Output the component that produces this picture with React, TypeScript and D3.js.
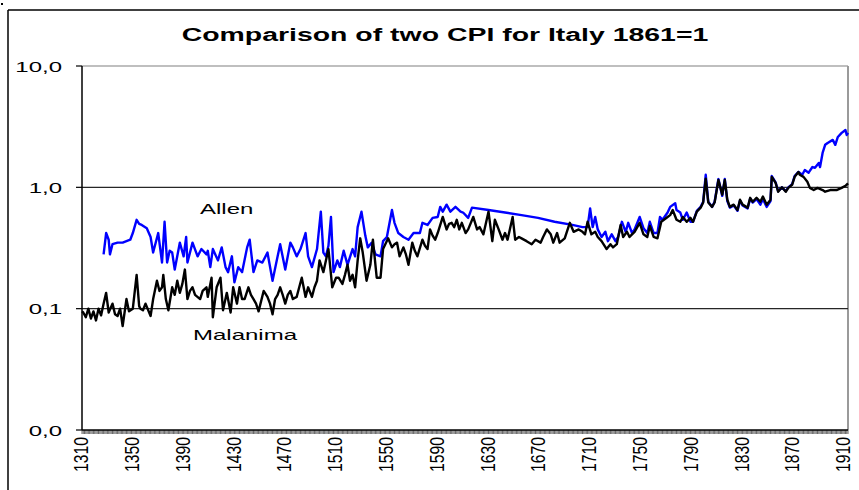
import React from 'react';
import * as d3 from 'd3';

const chartTitle = 'Comparison of two CPI for Italy 1861=1';
const yTickValues = [0.01, 0.1, 1, 10];
const yTickLabels = ['0,0', '0,1', '1,0', '10,0'];
const xLabelYears = [1310, 1350, 1390, 1430, 1470, 1510, 1550, 1590, 1630, 1670, 1710, 1750, 1790, 1830, 1870, 1910];
const seriesNames = ['Allen', 'Malanima'];

const malanimaYears = [
  1310, 1311, 1313, 1315, 1317, 1319, 1321, 1323, 1325, 1327, 1329, 1331, 1334, 1336, 1338, 1340, 1342, 1345, 1347, 1350,
  1353, 1355, 1356, 1358, 1360, 1364, 1366, 1369, 1371, 1373, 1374, 1376, 1378, 1381, 1383, 1385, 1387, 1389, 1391, 1393,
  1395, 1397, 1399, 1403, 1405, 1408, 1409, 1412, 1413, 1416, 1419, 1421, 1424, 1427, 1429, 1432, 1434, 1436, 1438, 1441,
  1443, 1445, 1447, 1449, 1453, 1456, 1458, 1460, 1462, 1464, 1466, 1468, 1470, 1472, 1474, 1476, 1479, 1481, 1483, 1486,
  1488, 1491, 1493, 1495, 1497, 1500, 1504, 1507, 1510, 1512, 1515, 1517, 1519, 1521, 1523, 1525, 1527, 1529, 1531, 1534,
  1537, 1539, 1542, 1545, 1547, 1551, 1554, 1556, 1558, 1560, 1563, 1565, 1567, 1570, 1572, 1574, 1578, 1580, 1582, 1584,
  1586, 1588, 1590, 1594, 1597, 1599, 1601, 1603, 1605, 1607, 1609, 1612, 1614, 1618, 1621, 1623, 1626, 1630, 1633, 1635,
  1638, 1641, 1643, 1645, 1649, 1651, 1654, 1656, 1660, 1664, 1667, 1671, 1673, 1676, 1679, 1681, 1684, 1686, 1690, 1694,
  1697, 1701, 1704, 1706, 1708, 1711, 1714, 1716, 1719, 1723, 1726, 1728, 1731, 1734, 1736, 1739, 1741, 1745, 1749, 1752,
  1755, 1757, 1760, 1763, 1766, 1771, 1773, 1775, 1778, 1781, 1783, 1786, 1789, 1791, 1794, 1797, 1799, 1801, 1803, 1806,
  1808, 1811, 1814, 1816, 1818, 1820, 1823, 1826, 1828, 1830, 1834, 1836, 1838, 1841, 1844, 1846, 1849, 1852, 1853, 1856,
  1858, 1861, 1864, 1866, 1869, 1871, 1874, 1875, 1878, 1881, 1883, 1886, 1889, 1893, 1895, 1899, 1904, 1908, 1911, 1913,
];
const malanimaValues = [
  0.095, 0.093, 0.085, 0.1, 0.083, 0.095, 0.08, 0.1, 0.088, 0.11, 0.135, 0.093, 0.11, 0.09, 0.087, 0.1, 0.072, 0.12, 0.095, 0.1,
  0.19, 0.105, 0.1, 0.097, 0.11, 0.087, 0.12, 0.17, 0.14, 0.15, 0.19, 0.12, 0.097, 0.15, 0.13, 0.17, 0.135, 0.16, 0.21, 0.12,
  0.14, 0.15, 0.13, 0.12, 0.14, 0.15, 0.125, 0.18, 0.085, 0.15, 0.18, 0.097, 0.135, 0.093, 0.15, 0.11, 0.15, 0.12, 0.12, 0.15,
  0.13, 0.12, 0.11, 0.095, 0.14, 0.125, 0.11, 0.09, 0.12, 0.13, 0.15, 0.13, 0.11, 0.13, 0.14, 0.12, 0.125, 0.15, 0.18, 0.125,
  0.15, 0.125, 0.15, 0.17, 0.25, 0.2, 0.31, 0.15, 0.18, 0.18, 0.16, 0.19, 0.23, 0.17, 0.19, 0.15, 0.25, 0.38, 0.29, 0.17,
  0.23, 0.37, 0.18, 0.18, 0.31, 0.38, 0.32, 0.34, 0.35, 0.27, 0.32, 0.28, 0.23, 0.35, 0.3, 0.27, 0.37, 0.33, 0.31, 0.45,
  0.4, 0.37, 0.42, 0.57, 0.45, 0.5, 0.51, 0.47, 0.54, 0.45, 0.51, 0.42, 0.45, 0.57, 0.45, 0.47, 0.41, 0.63, 0.36, 0.54,
  0.45, 0.37, 0.42, 0.37, 0.57, 0.37, 0.39, 0.38, 0.36, 0.34, 0.37, 0.35, 0.39, 0.45, 0.41, 0.35, 0.42, 0.35, 0.38, 0.51,
  0.43, 0.45, 0.43, 0.41, 0.52, 0.41, 0.43, 0.39, 0.36, 0.31, 0.34, 0.32, 0.34, 0.49, 0.39, 0.43, 0.39, 0.43, 0.51, 0.41,
  0.39, 0.48, 0.39, 0.38, 0.52, 0.57, 0.59, 0.65, 0.54, 0.52, 0.57, 0.52, 0.56, 0.52, 0.63, 0.68, 0.75, 1.18, 0.75, 0.69,
  0.75, 1.15, 0.87, 1.15, 0.79, 0.69, 0.72, 0.65, 0.79, 0.72, 0.68, 0.82, 0.76, 0.82, 0.76, 0.84, 0.72, 0.79, 1.22, 1.09,
  0.92, 1.0, 0.92, 0.99, 1.05, 1.22, 1.34, 1.27, 1.22, 1.11, 0.99, 0.95, 0.99, 0.95, 0.92, 0.95, 0.95, 0.99, 1.03, 1.08,
];

const allenYears = [
  1327, 1329, 1331, 1332, 1334, 1338, 1342, 1345, 1348, 1350, 1353, 1355, 1357, 1361, 1364, 1366, 1370, 1373, 1375, 1377,
  1379, 1381, 1383, 1387, 1390, 1392, 1393, 1397, 1401, 1404, 1408, 1409, 1411, 1413, 1417, 1420, 1423, 1425, 1428, 1430,
  1433, 1436, 1440, 1442, 1445, 1448, 1452, 1456, 1460, 1464, 1466, 1470, 1474, 1476, 1479, 1482, 1486, 1488, 1491, 1495,
  1498, 1500, 1502, 1504, 1506, 1508, 1511, 1513, 1516, 1519, 1523, 1525, 1527, 1530, 1533, 1535, 1538, 1541, 1545, 1547,
  1550, 1554, 1556, 1559, 1563, 1567, 1571, 1576, 1578, 1582, 1586, 1590, 1592, 1594, 1597, 1600, 1604, 1608, 1610, 1614,
  1617, 1630, 1643, 1656, 1669, 1682, 1696, 1704, 1708, 1710, 1712, 1714, 1716, 1719, 1722, 1724, 1727, 1730, 1732, 1735,
  1738, 1740, 1743, 1745, 1749, 1752, 1755, 1757, 1760, 1763, 1765, 1767, 1771, 1773, 1777, 1778, 1781, 1783, 1786, 1789,
  1791, 1794, 1797, 1799, 1801, 1803, 1806, 1808, 1811, 1814, 1816, 1818, 1820, 1823, 1826, 1828, 1830, 1834, 1836, 1838,
  1841, 1844, 1846, 1849, 1852, 1853, 1856, 1858, 1861, 1864, 1866, 1869, 1871, 1874, 1877, 1879, 1882, 1885, 1887, 1890,
  1891, 1893, 1895, 1897, 1901, 1903, 1905, 1908, 1911, 1912, 1913,
];
const allenValues = [
  0.28, 0.42, 0.37, 0.28, 0.34, 0.35, 0.35, 0.36, 0.37, 0.42, 0.54, 0.5, 0.49, 0.46, 0.39, 0.29, 0.42, 0.24, 0.52, 0.24,
  0.3, 0.29, 0.21, 0.35, 0.27, 0.39, 0.24, 0.35, 0.27, 0.31, 0.28, 0.3, 0.22, 0.31, 0.25, 0.32, 0.22, 0.2, 0.27, 0.165,
  0.22, 0.2, 0.32, 0.37, 0.2, 0.25, 0.24, 0.29, 0.17, 0.27, 0.34, 0.21, 0.35, 0.32, 0.27, 0.31, 0.42, 0.27, 0.22, 0.31,
  0.63, 0.29, 0.27, 0.33, 0.57, 0.2, 0.25, 0.22, 0.3, 0.23, 0.31, 0.27, 0.47, 0.63, 0.4, 0.32, 0.35, 0.28, 0.27, 0.36,
  0.39, 0.65, 0.51, 0.42, 0.39, 0.37, 0.42, 0.42, 0.51, 0.49, 0.56, 0.57, 0.69, 0.63, 0.72, 0.63, 0.69, 0.63, 0.62, 0.56,
  0.68, 0.65, 0.62, 0.59, 0.56, 0.52, 0.49, 0.47, 0.47, 0.67, 0.47, 0.57, 0.45, 0.39, 0.43, 0.36, 0.41, 0.36, 0.39, 0.52,
  0.43, 0.51, 0.42, 0.45, 0.57, 0.46, 0.42, 0.52, 0.42, 0.42, 0.57, 0.54, 0.62, 0.69, 0.74, 0.65, 0.62, 0.54, 0.62, 0.52,
  0.52, 0.64, 0.69, 0.76, 1.27, 0.76, 0.69, 0.76, 1.17, 0.85, 1.17, 0.77, 0.68, 0.71, 0.64, 0.78, 0.71, 0.67, 0.81, 0.75,
  0.8, 0.72, 0.8, 0.69, 0.77, 1.24, 1.1, 0.93, 1.0, 0.93, 1.0, 1.06, 1.24, 1.34, 1.27, 1.39, 1.32, 1.47, 1.45, 1.59,
  1.47, 1.92, 2.24, 2.32, 2.46, 2.24, 2.6, 2.81, 2.97, 2.7, 2.81,
];

const W = 859;
const H = 490;
const L = 82;
const R = 848;
const T = 66;
const B = 430;
const FONT = "'Liberation Sans', Arial, Helvetica, sans-serif";

export default function App() {
  const x = d3.scaleLinear().domain([1310, 1913]).range([L, R]);
  const y = d3.scaleLog().domain([0.01, 10]).range([B, T]);

  const line = d3
    .line<[number, number]>()
    .x((d) => x(d[0]))
    .y((d) => y(d[1]))
    .curve(d3.curveLinear);

  const allenPts = allenYears.map((yr, i) => [yr, allenValues[i]] as [number, number]);
  const malPts = malanimaYears.map((yr, i) => [yr, malanimaValues[i]] as [number, number]);

  const everyYear = d3.range(1310, 1914);

  return (
    <svg
      width={W}
      height={H}
      style={{ position: 'absolute', left: 0, top: 0, background: '#fff' }}
      fontFamily={FONT}
    >
      <rect x={0} y={0} width={W} height={H} fill="#fff" />
      <rect x={1} y={3} width={2} height={2} fill="#000" />
      {/* outer frame */}
      <line x1={8} y1={10} x2={W} y2={10} stroke="#000" strokeWidth={1.5} />
      <line x1={8} y1={10} x2={8} y2={H} stroke="#000" strokeWidth={1.5} />

      {/* title */}
      <text
        transform={`translate(445,41) scale(1.58,1)`}
        textAnchor="middle"
        fontSize={18}
        fontWeight="bold"
        fill="#000"
      >
        {chartTitle}
      </text>

      {/* plot border (top + right) */}
      <line x1={L} y1={T} x2={R} y2={T} stroke="#808080" strokeWidth={1.2} />
      <line x1={R} y1={T} x2={R} y2={B} stroke="#9a9a9a" strokeWidth={2} />

      {/* gridlines */}
      {yTickValues.slice(1, 3).map((v) => (
        <line key={v} x1={L} y1={y(v)} x2={R} y2={y(v)} stroke="#262626" strokeWidth={1.2} />
      ))}

      {/* y axis */}
      <line x1={L} y1={T} x2={L} y2={B} stroke="#000" strokeWidth={1.5} />
      {yTickValues.map((v, i) => (
        <g key={v}>
          <line x1={L - 6} y1={y(v)} x2={L} y2={y(v)} stroke="#000" strokeWidth={1.2} />
          <text
            transform={`translate(62,${y(v) + 5.5}) scale(1.6,1)`}
            textAnchor="end"
            fontSize={15}
            fill="#000"
          >
            {yTickLabels[i]}
          </text>
        </g>
      ))}

      {/* x axis */}
      <line x1={L} y1={B} x2={R} y2={B} stroke="#000" strokeWidth={1.5} />
      {everyYear.map((yr) => (
        <line key={yr} x1={x(yr)} y1={B} x2={x(yr)} y2={B + 4} stroke="#000" strokeWidth={0.6} />
      ))}
      {xLabelYears.map((yr) => (
        <text
          key={yr}
          transform={`translate(${x(yr) - 1},437) rotate(-90) scale(1.05,1.35)`}
          textAnchor="end"
          dy="0.35em"
          fontSize={15}
          fill="#000"
        >
          {yr}
        </text>
      ))}

      {/* series */}
      <path d={line(allenPts) || ''} fill="none" stroke="#0000ff" strokeWidth={2.4} strokeLinejoin="round" />
      <path d={line(malPts) || ''} fill="none" stroke="#000" strokeWidth={2.4} strokeLinejoin="round" />

      {/* series labels */}
      <text transform="translate(200,214) scale(1.6,1)" fontSize={15} fill="#000">
        {seriesNames[0]}
      </text>
      <text transform="translate(193,340) scale(1.6,1)" fontSize={15} fill="#000">
        {seriesNames[1]}
      </text>
    </svg>
  );
}
